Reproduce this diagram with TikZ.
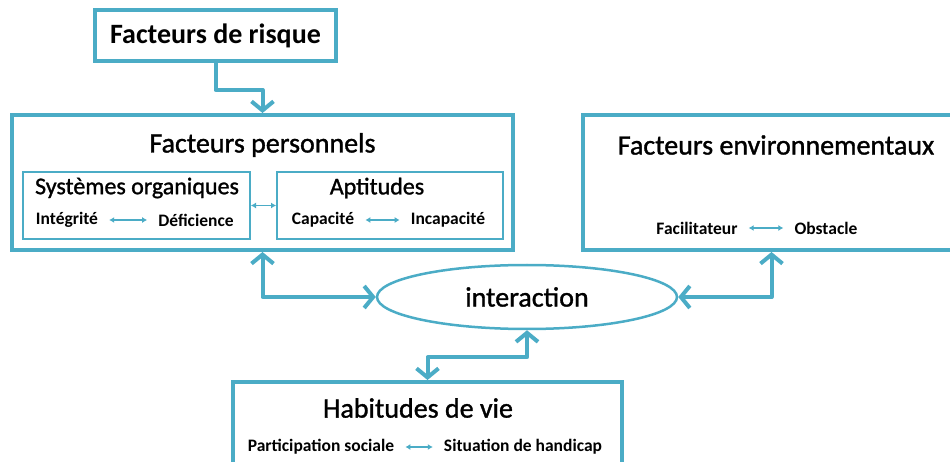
\documentclass[tikz,border=0pt]{standalone}
\usepackage{fontspec}
\setmainfont{Carlito}
\newfontface\semib{Carlito}[FakeBold = 1.2]
\usetikzlibrary{arrows.meta, shapes.geometric, calc}
\definecolor{myblue1}{RGB}{75, 172, 198}

\begin{document}
\begin{tikzpicture}[
    x = 1pt, y = -1pt,
    >= {Straight Barb[length = 9pt, width = 22pt]},
    b0/.style = {draw = myblue1, line width = 4pt, inner sep = 0pt},
    b1/.style = {draw = myblue1, line width = 2pt, inner sep = 0pt},
    t0/.style = {font = \fontsize{28}{30}\semib, inner sep = 0pt},
    t1/.style = {font = \fontsize{24}{26}\semib, inner sep = 0pt},
    t2/.style = {font = \fontsize{17.5}{19}\selectfont\bfseries, inner xsep = 11pt, inner ysep = 0pt},
    a0/.style = {draw = myblue1, line width = 4pt, line join = round},
    a1/.style = {draw = myblue1, line width = 1.8pt, {Latex[length = 5pt, width = 6pt]}-{Latex[length = 5pt, width = 6pt]}},
]
\clip (0,0) rectangle (950,462);

% facteurs de risque
\node[b0, font = \fontsize{28}{30}\selectfont\bfseries, minimum width = 241, minimum height = 51] (risque) at (215.5,35.5) {Facteurs de risque};

% facteurs personnels
\node[b0, minimum width = 501, minimum height = 135] (perso) at (262.5,182.5) {};
\node[t0] (persoT) at (262.5,145) {Facteurs personnels};
\node[b1, minimum width = 227, minimum height = 67] (sys) at (136.5,205.5) {};
\node[t1] (sysT) at (137,188) {Systèmes organiques};
\node[t2] (integ) at (67,220) {Intégrité};
\node[t2] (defic) at (196,220) {Déficience};
\draw[a1] (integ) -- (defic);
\node[b1, minimum width = 226, minimum height = 67] (apt) at (390,205.5) {};
\node[t1] (aptT) at (377,188) {Aptitudes};
\node[t2] (capa) at (323,220) {Capacité};
\node[t2] (incapa) at (448,220) {Incapacité};
\draw[a1] (capa) -- (incapa);
\draw[a1] (sys) -- (apt);

% facteurs environnementaux
\node[b0, minimum width = 377, minimum height = 135] (env) at (771.5,182.5) {};
\node[t0] (envT) at (776,145) {Facteurs environnementaux};
\node[t2] (facil) at (697,228) {Facilitateur};
\node[t2] (obst) at (826,228) {Obstacle};
\draw[a1] (facil) -- (obst);

% interaction
\node[draw = myblue1, line width = 2.5pt, ellipse, t0, minimum width = 300, minimum height = 64] (inter) at (527,297) {interaction};

% habitudes de vie
\node[b0, minimum width = 389, minimum height = 110] (hab) at (427.5,437) {};
\node[t0] (habT) at (418,408) {Habitudes de vie};
\node[t2] (partic) at (321,447) {Participation sociale};
\node[t2] (situ) at (523,447) {Situation de handicap};
\draw[a1] (partic) -- (situ);

% liens
\draw[a0, ->] (risque.south) -- ++(0,27) -| (perso.north);
\draw[a0, <->] (perso.south) |- (inter.west);
\draw[a0, <->] (env.south) |- (inter.east);
\draw[a0, <->] (inter.south) -- ++(0,27) -| (hab.north);
\end{tikzpicture}
\end{document}
